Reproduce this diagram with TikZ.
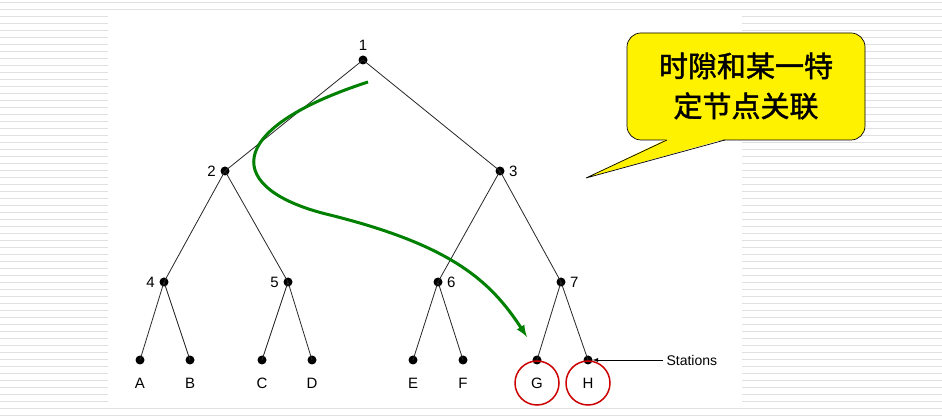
\documentclass[tikz,border=0pt]{standalone}
\usepackage{fontspec}
\setmainfont{Liberation Sans}
\newfontfamily\cjk{Noto Sans CJK SC}[FakeBold=1.5]
\begin{document}
\begin{tikzpicture}[x=1pt,y=-1pt,
  dot/.style={circle,fill=black,inner sep=0pt,minimum size=9pt},
  lbl/.style={font=\fontsize{15}{17}\selectfont},
  edge/.style={draw=black!85,line width=0.8pt}]
\useasboundingbox (0,0) rectangle (942,419);
\fill[white] (0,0) rectangle (942,419);
\foreach \y in {2,9,...,419} \draw[black!12,line width=0.8pt] (0,\y) -- (942,\y);
\fill[white] (108,10) rectangle (742,408);
% nodes
\node[dot] (n1) at (363,60) {};
\node[dot] (n2) at (225,171) {};
\node[dot] (n3) at (500,171) {};
\node[dot] (n4) at (164,282) {};
\node[dot] (n5) at (288,282) {};
\node[dot] (n6) at (438,282) {};
\node[dot] (n7) at (561,282) {};
\foreach \n/\x in {A/140,B/190,C/262,D/312,E/413,F/463,G/537,H/588}{
  \node[dot] (\n) at (\x,360) {};
  \node[lbl] (t\n) at (\x,383) {\n};
}
\node[lbl,above=1pt] (l1) at (n1.north) {1};
\node[lbl,left=1pt] (l2) at (n2.west) {2};
\node[lbl,right=1pt] (l3) at (n3.east) {3};
\node[lbl,left=1pt] (l4) at (n4.west) {4};
\node[lbl,left=1pt] (l5) at (n5.west) {5};
\node[lbl,right=1pt] (l6) at (n6.east) {6};
\node[lbl,right=1pt] (l7) at (n7.east) {7};
\foreach \a/\b in {n1/n2,n1/n3,n2/n4,n2/n5,n3/n6,n3/n7,n4/A,n4/B,n5/C,n5/D,n6/E,n6/F,n7/G,n7/H}
  \draw[edge] (\a.center) -- (\b.center);
\draw[red!80!black,line width=1.5pt] (tG) circle (22);
\draw[red!80!black,line width=1.5pt] (tH) circle (22);
\node[anchor=west,font=\fontsize{14}{16}\selectfont] (st) at (663,360) {Stations};
\draw[-latex,line width=0.9pt] (st.west) -- (H.east);
\coordinate (g0) at (368,82);
\coordinate (g1) at (527,337);
\draw[green!50!black,line width=3pt,-latex] (g0) .. controls (220,130) and (225,190) .. (330,215) .. controls (450,245) and (490,280) .. (g1);
% callout
\coordinate (tip) at (586,178);
\draw[fill=yellow,line width=0.7pt,rounded corners=14pt] (627,33) rectangle (865,140);
\fill[yellow] (667,139) -- (tip) -- (725,139) -- cycle;
\draw[line width=0.7pt] (667,140) -- (tip) -- (725,140);
\node[align=center,font=\cjk\fontsize{29}{40}\selectfont] (call) at (746,86) {时隙和某一特\\定节点关联};
\end{tikzpicture}
\end{document}
